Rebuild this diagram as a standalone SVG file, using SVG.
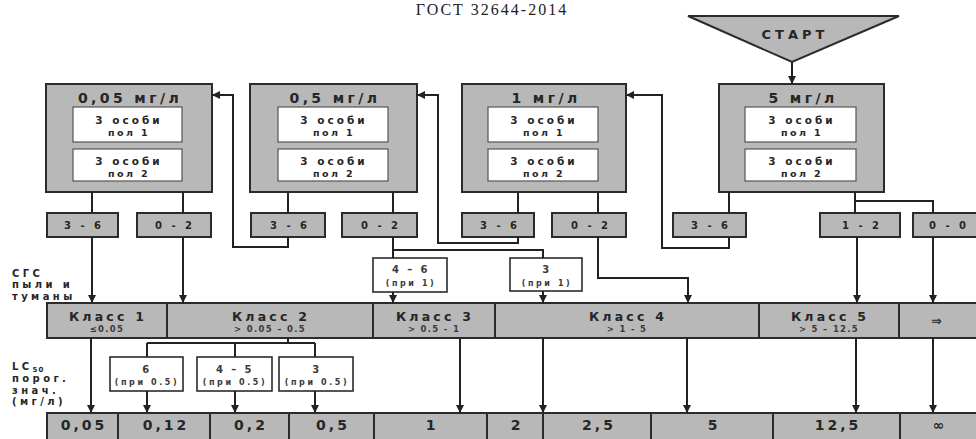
<svg xmlns="http://www.w3.org/2000/svg" width="976" height="439" viewBox="0 0 976 439">
<defs>
<marker id="ah" markerUnits="userSpaceOnUse" markerWidth="9" markerHeight="9" refX="8" refY="4" orient="auto">
<path d="M0,0 L8,4 L0,8 z" fill="#222"/>
</marker>
<style>
.box{fill:#b8b8b8;stroke:#2b2b2b;stroke-width:2}
.wbox{fill:#fff;stroke:#555;stroke-width:1.2}
.ann{fill:#fff;stroke:#2b2b2b;stroke-width:1.6}
.conn{fill:none;stroke:#222;stroke-width:2}
.arr{marker-end:url(#ah)}
text{font-family:"DejaVu Sans","Liberation Sans",sans-serif;font-weight:bold;fill:#262626;text-anchor:middle}
.h{font-size:14px;letter-spacing:3.4px}
.s{font-size:10.5px;letter-spacing:3px}
.p{font-size:9.5px;letter-spacing:2.4px}
.r{font-size:10px;letter-spacing:3px}
.c{font-size:12.5px;letter-spacing:3.2px}
.cs{font-size:8.5px;letter-spacing:1.3px;fill:#3a3a3a}
.b{font-size:14px;letter-spacing:3px}
.lbl{font-size:10px;letter-spacing:3.4px;text-anchor:start}
.a1{font-size:10px;letter-spacing:2.4px;fill:#3a3a3a}
.a2{font-size:8px;letter-spacing:2.6px;fill:#3a3a3a}
.title{font-family:"Liberation Serif",serif;font-weight:normal;font-size:16px;letter-spacing:2px;fill:#222}
</style>
</defs>

<text class="title" x="492" y="15">ГОСТ 32644-2014</text>

<g id="start">
<polygon points="688,16 899,16 792,62" class="box"/>
<text x="795" y="39" style="font-size:13px;letter-spacing:4px">СТАРТ</text>
</g>

<g id="dose-005">
<rect x="46" y="84" width="166" height="108" class="box"/>
<text class="h" x="130" y="103">0,05 мг/л</text>
<rect x="73" y="107" width="109" height="35" class="wbox"/>
<text class="s" x="129" y="124">3 особи</text>
<text class="p" x="129" y="136">пол 1</text>
<rect x="73" y="149" width="109" height="32" class="wbox"/>
<text class="s" x="129" y="165">3 особи</text>
<text class="p" x="129" y="177">пол 2</text>
</g>
<g id="dose-05">
<rect x="250" y="84" width="167" height="108" class="box"/>
<text class="h" x="335" y="103">0,5 мг/л</text>
<rect x="278" y="107" width="110" height="35" class="wbox"/>
<text class="s" x="334" y="124">3 особи</text>
<text class="p" x="334" y="136">пол 1</text>
<rect x="278" y="149" width="110" height="32" class="wbox"/>
<text class="s" x="334" y="165">3 особи</text>
<text class="p" x="334" y="177">пол 2</text>
</g>
<g id="dose-1">
<rect x="462" y="84" width="164" height="108" class="box"/>
<text class="h" x="546" y="103">1 мг/л</text>
<rect x="488" y="107" width="110" height="35" class="wbox"/>
<text class="s" x="544" y="124">3 особи</text>
<text class="p" x="544" y="136">пол 1</text>
<rect x="488" y="149" width="110" height="32" class="wbox"/>
<text class="s" x="544" y="165">3 особи</text>
<text class="p" x="544" y="177">пол 2</text>
</g>
<g id="dose-5">
<rect x="719" y="84" width="165" height="108" class="box"/>
<text class="h" x="803" y="103">5 мг/л</text>
<rect x="745" y="107" width="111" height="35" class="wbox"/>
<text class="s" x="802" y="124">3 особи</text>
<text class="p" x="802" y="136">пол 1</text>
<rect x="745" y="149" width="111" height="32" class="wbox"/>
<text class="s" x="802" y="165">3 особи</text>
<text class="p" x="802" y="177">пол 2</text>
</g>

<g id="res-005-a"><rect x="47" y="213" width="71" height="24" class="box"/><text class="r" x="84" y="229">3 - 6</text></g>
<g id="res-005-b"><rect x="137" y="213" width="74" height="24" class="box"/><text class="r" x="175" y="229">0 - 2</text></g>
<g id="res-05-a"><rect x="251" y="213" width="74" height="24" class="box"/><text class="r" x="290" y="229">3 - 6</text></g>
<g id="res-05-b"><rect x="342" y="213" width="75" height="24" class="box"/><text class="r" x="381" y="229">0 - 2</text></g>
<g id="res-1-a"><rect x="462" y="213" width="72" height="24" class="box"/><text class="r" x="500" y="229">3 - 6</text></g>
<g id="res-1-b"><rect x="552" y="213" width="74" height="24" class="box"/><text class="r" x="591" y="229">0 - 2</text></g>
<g id="res-5-a"><rect x="673" y="213" width="73" height="24" class="box"/><text class="r" x="711" y="229">3 - 6</text></g>
<g id="res-5-b"><rect x="820" y="213" width="80" height="24" class="box"/><text class="r" x="862" y="229">1 - 2</text></g>
<g id="res-5-c"><rect x="913" y="213" width="80" height="24" class="box"/><text class="r" x="949" y="229">0 - 0</text></g>

<g id="ann-46"><rect x="373" y="258" width="74" height="34" class="ann"/><text class="a1" x="411" y="273">4 – 6</text><text class="a2" x="411" y="286">(при 1)</text></g>
<g id="ann-3"><rect x="510" y="258" width="72" height="33" class="ann"/><text class="a1" x="547" y="273">3</text><text class="a2" x="547" y="286">(при 1)</text></g>

<g id="lbl-ghs">
<text class="lbl" x="12" y="277">СГС</text>
<text class="lbl" x="12" y="288">пыли и</text>
<text class="lbl" x="12" y="300">туманы</text>
</g>
<g id="lbl-lc50">
<text class="lbl" x="12" y="370">LC<tspan style="font-size:7px;letter-spacing:1px" dy="2">50</tspan></text>
<text class="lbl" x="12" y="382">порог.</text>
<text class="lbl" x="12" y="394">знач.</text>
<text class="lbl" x="12" y="405">(мг/л)</text>
</g>

<g id="class-1"><rect x="47" y="303" width="120" height="35" class="box"/><text class="c" x="108" y="321">Класс 1</text><text class="cs" x="107" y="332">≤0.05</text></g>
<g id="class-2"><rect x="167" y="303" width="206" height="35" class="box"/><text class="c" x="271" y="321">Класс 2</text><text class="cs" x="270" y="332">&gt; 0.05 – 0.5</text></g>
<g id="class-3"><rect x="373" y="303" width="122" height="35" class="box"/><text class="c" x="435" y="321">Класс 3</text><text class="cs" x="434" y="332">&gt; 0.5 - 1</text></g>
<g id="class-4"><rect x="495" y="303" width="264" height="35" class="box"/><text class="c" x="628" y="321">Класс 4</text><text class="cs" x="627" y="332">&gt; 1 - 5</text></g>
<g id="class-5"><rect x="759" y="303" width="140" height="35" class="box"/><text class="c" x="830" y="321">Класс 5</text><text class="cs" x="829" y="332">&gt; 5 – 12.5</text></g>
<g id="class-6"><rect x="899" y="303" width="90" height="35" class="box"/><text class="c" x="938" y="325">⇒</text></g>

<g id="ann-6"><rect x="110" y="357" width="73" height="34" class="ann"/><text class="a1" x="147" y="373">6</text><text class="a2" x="147" y="385">(при 0.5)</text></g>
<g id="ann-45"><rect x="197" y="357" width="75" height="34" class="ann"/><text class="a1" x="235" y="373">4 – 5</text><text class="a2" x="235" y="385">(при 0.5)</text></g>
<g id="ann-3b"><rect x="279" y="357" width="74" height="34" class="ann"/><text class="a1" x="317" y="373">3</text><text class="a2" x="317" y="385">(при 0.5)</text></g>

<g id="val-005"><rect x="47" y="413" width="71" height="34" class="box"/><text class="b" x="84" y="430">0,05</text></g>
<g id="val-012"><rect x="118" y="413" width="92" height="34" class="box"/><text class="b" x="166" y="430">0,12</text></g>
<g id="val-02"><rect x="210" y="413" width="79" height="34" class="box"/><text class="b" x="251" y="430">0,2</text></g>
<g id="val-05"><rect x="289" y="413" width="85" height="34" class="box"/><text class="b" x="333" y="430">0,5</text></g>
<g id="val-1"><rect x="374" y="413" width="113" height="34" class="box"/><text class="b" x="432" y="430">1</text></g>
<g id="val-2"><rect x="487" y="413" width="56" height="34" class="box"/><text class="b" x="517" y="430">2</text></g>
<g id="val-25"><rect x="543" y="413" width="108" height="34" class="box"/><text class="b" x="599" y="430">2,5</text></g>
<g id="val-5"><rect x="651" y="413" width="122" height="34" class="box"/><text class="b" x="714" y="430">5</text></g>
<g id="val-125"><rect x="773" y="413" width="127" height="34" class="box"/><text class="b" x="838" y="430">12,5</text></g>
<g id="val-inf"><rect x="900" y="413" width="90" height="34" class="box"/><text class="b" x="940" y="430">∞</text></g>

<g id="connectors">
<path class="conn arr" d="M792,62 V84"/>
<path class="conn" d="M92,192 V213 M183,192 V213 M288,192 V213 M393,192 V213 M518,192 V213 M598,192 V213 M729,192 V213 M855,192 V213 M855,201 H933 V213"/>
<path class="conn arr" d="M92,237 V303"/>
<path class="conn arr" d="M183,237 V303"/>
<path class="conn arr" d="M288,237 V247 H233 V95 H212"/>
<path class="conn" d="M393,237 V258 M393,250 H543 V258"/>
<path class="conn arr" d="M393,292 V303"/>
<path class="conn arr" d="M543,291 V303"/>
<path class="conn arr" d="M518,237 V243 H438 V95 H417"/>
<path class="conn arr" d="M598,237 V278 H688 V303"/>
<path class="conn arr" d="M729,237 V248 H662 V95 H626"/>
<path class="conn arr" d="M857,237 V303"/>
<path class="conn arr" d="M933,237 V303"/>
<path class="conn arr" d="M91,338 V413"/>
<path class="conn" d="M288,338 V343 M147,343 H315 M147,343 V357 M235,343 V357 M315,343 V357"/>
<path class="conn arr" d="M147,391 V413"/>
<path class="conn arr" d="M235,391 V413"/>
<path class="conn arr" d="M315,391 V413"/>
<path class="conn arr" d="M460,338 V413"/>
<path class="conn arr" d="M543,338 V413"/>
<path class="conn arr" d="M687,338 V413"/>
<path class="conn arr" d="M856,338 V413"/>
<path class="conn arr" d="M933,338 V413"/>
</g>
</svg>
